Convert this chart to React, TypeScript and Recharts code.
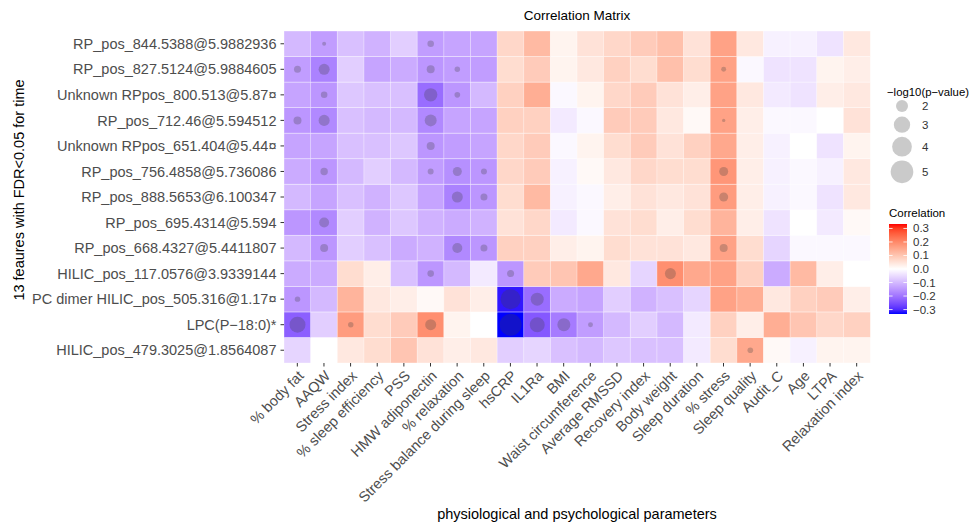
import React from 'react';
import { ComposedChart, Bar, XAxis, YAxis } from 'recharts';

const FONT = '"Liberation Sans", Arial, Helvetica, sans-serif';

const rowNames = [
  'RP_pos_844.5388@5.9882936',
  'RP_pos_827.5124@5.9884605',
  'Unknown RPpos_800.513@5.87¤',
  'RP_pos_712.46@5.594512',
  'Unknown RPpos_651.404@5.44¤',
  'RP_pos_756.4858@5.736086',
  'RP_pos_888.5653@6.100347',
  'RP_pos_695.4314@5.594',
  'RP_pos_668.4327@5.4411807',
  'HILIC_pos_117.0576@3.9339144',
  'PC dimer HILIC_pos_505.316@1.17¤',
  'LPC(P−18:0)*',
  'HILIC_pos_479.3025@1.8564087',
];

const colNames = [
  '% body fat', 'AAQW', 'Stress index', '% sleep efficiency', 'PSS', 'HMW adiponectin',
  '% relaxation', 'Stress balance during sleep', 'hsCRP', 'IL1Ra', 'BMI', 'Waist circumference',
  'Average RMSSD', 'Recovery index', 'Body weight', 'Sleep duration', '% stress', 'Sleep quality',
  'Audit_C', 'Age', 'LTPA', 'Relaxation index',
];

// correlation, one list per feature (same order as rowNames)
const corr = [
  [-0.10, -0.14, -0.09, -0.11, -0.07, -0.14, -0.13, -0.13, 0.07, 0.12, 0.02, 0.05, 0.07, 0.09, 0.11, 0.05, 0.16, 0.04, -0.02, -0.02, -0.04, 0.04],
  [-0.14, -0.18, -0.07, -0.13, -0.12, -0.15, -0.14, -0.14, 0.06, 0.09, 0.02, 0.04, 0.08, 0.06, 0.11, 0.06, 0.16, -0.01, -0.04, -0.04, 0.02, 0.03],
  [-0.13, -0.15, -0.08, -0.09, -0.09, -0.21, -0.15, -0.10, 0.08, 0.14, -0.01, 0.02, 0.07, 0.09, 0.05, 0.03, 0.16, 0.04, -0.03, -0.04, 0.03, 0.04],
  [-0.15, -0.17, -0.09, -0.10, -0.10, -0.17, -0.13, -0.13, 0.08, 0.08, -0.03, -0.01, 0.09, 0.09, 0.04, 0.01, 0.16, 0.03, -0.01, -0.01, 0.00, 0.05],
  [-0.13, -0.13, -0.09, -0.09, -0.08, -0.15, -0.14, -0.13, 0.07, 0.09, -0.01, 0.02, 0.06, 0.09, 0.05, 0.08, 0.15, 0.03, -0.02, 0.00, -0.04, 0.02],
  [-0.12, -0.15, -0.10, -0.07, -0.10, -0.14, -0.16, -0.15, 0.07, 0.09, -0.02, 0.01, 0.04, 0.07, 0.06, 0.06, 0.18, 0.03, -0.02, -0.01, -0.02, 0.04],
  [-0.10, -0.13, -0.09, -0.11, -0.08, -0.13, -0.18, -0.15, 0.06, 0.12, -0.02, -0.01, 0.03, 0.05, 0.04, 0.05, 0.17, 0.03, -0.02, -0.01, -0.04, 0.04],
  [-0.15, -0.17, -0.07, -0.11, -0.08, -0.11, -0.12, -0.11, 0.05, 0.07, -0.03, -0.01, 0.05, 0.06, 0.03, 0.06, 0.13, 0.03, -0.04, 0.00, -0.03, 0.01],
  [-0.10, -0.15, -0.07, -0.09, -0.12, -0.11, -0.17, -0.15, 0.08, 0.08, 0.03, 0.02, 0.06, 0.05, 0.05, 0.04, 0.16, 0.06, -0.06, -0.01, -0.01, -0.01],
  [-0.12, -0.12, 0.06, 0.03, -0.09, -0.15, -0.10, -0.03, -0.15, 0.09, 0.10, 0.15, 0.04, -0.06, 0.19, 0.15, 0.16, 0.08, -0.12, 0.12, 0.03, 0.00],
  [-0.15, -0.10, 0.13, 0.04, 0.03, 0.01, 0.05, 0.03, -0.32, -0.21, -0.12, -0.13, -0.07, -0.11, -0.09, -0.06, 0.16, 0.14, 0.04, 0.08, 0.09, 0.03],
  [-0.23, -0.07, 0.17, 0.06, 0.09, 0.19, 0.02, 0.00, -0.333, -0.24, -0.19, -0.14, -0.10, -0.07, -0.10, -0.03, 0.08, 0.03, 0.14, 0.10, 0.07, 0.08],
  [-0.06, 0.00, 0.04, 0.06, 0.10, 0.05, 0.03, 0.04, -0.07, -0.06, -0.09, -0.10, -0.08, -0.09, -0.09, -0.03, 0.06, 0.15, 0.01, -0.02, 0.02, 0.02],
];

// [row, col, -log10(p)] for the marked cells
const sig = [
  [0, 1, 0.96], [0, 5, 1.18],
  [1, 0, 1.23], [1, 1, 1.82], [1, 5, 1.35], [1, 6, 1.07], [1, 16, 1.03],
  [2, 1, 1.18], [2, 5, 2.29], [2, 6, 1.09],
  [3, 0, 1.35], [3, 1, 1.82], [3, 5, 2.0], [3, 16, 0.92],
  [4, 5, 1.35],
  [5, 1, 1.28], [5, 5, 1.12], [5, 6, 1.49], [5, 7, 1.12], [5, 16, 1.49],
  [6, 6, 1.82], [6, 7, 1.23], [6, 16, 1.49],
  [7, 1, 1.64],
  [8, 1, 1.35], [8, 6, 1.64], [8, 7, 1.23], [8, 16, 1.35],
  [9, 5, 1.18], [9, 8, 1.23], [9, 14, 1.82],
  [10, 0, 1.07], [10, 8, 4.09], [10, 9, 2.21],
  [11, 0, 2.91], [11, 2, 1.07], [11, 5, 1.82], [11, 8, 4.77], [11, 9, 2.66], [11, 10, 2.21], [11, 11, 1.03],
  [12, 17, 1.09],
];

const sizeBreaks = [2, 3, 4, 5];
const colorBreaks = [0.3, 0.2, 0.1, 0.0, -0.1, -0.2, -0.3];
const LIMIT = 0.333;

// --- colour scale: white -> blue / red interpolated in Lab (like scale_fill_gradient2)
const toLin = (c: number) => {
  const s = c / 255;
  return s <= 0.04045 ? s / 12.92 : Math.pow((s + 0.055) / 1.055, 2.4);
};
const fromLin = (c: number) => {
  const v = c <= 0.0031308 ? 12.92 * c : 1.055 * Math.pow(Math.max(c, 0), 1 / 2.4) - 0.055;
  return Math.round(Math.min(1, Math.max(0, v)) * 255);
};
const f = (t: number) => (t > 216 / 24389 ? Math.cbrt(t) : ((24389 / 27) * t + 16) / 116);
const fi = (t: number) => (t * t * t > 216 / 24389 ? t * t * t : (116 * t - 16) / (24389 / 27));

function rgbToLab([r, g, b]: number[]) {
  const R = toLin(r), G = toLin(g), B = toLin(b);
  const X = (0.4124 * R + 0.3576 * G + 0.1805 * B) / 0.95047;
  const Y = 0.2126 * R + 0.7152 * G + 0.0722 * B;
  const Z = (0.0193 * R + 0.1192 * G + 0.9505 * B) / 1.08883;
  return [116 * f(Y) - 16, 500 * (f(X) - f(Y)), 200 * (f(Y) - f(Z))];
}

function labToHex([L, a, b]: number[]) {
  const fy = (L + 16) / 116;
  const X = fi(fy + a / 500) * 0.95047;
  const Y = fi(fy);
  const Z = fi(fy - b / 200) * 1.08883;
  const r = fromLin(3.2406 * X - 1.5372 * Y - 0.4986 * Z);
  const g = fromLin(-0.9689 * X + 1.8758 * Y + 0.0415 * Z);
  const bl = fromLin(0.0557 * X - 0.204 * Y + 1.057 * Z);
  return '#' + [r, g, bl].map((v) => v.toString(16).padStart(2, '0')).join('');
}

const WHITE = rgbToLab([255, 255, 255]);
const BLUE = rgbToLab([0, 0, 255]);
const RED = rgbToLab([255, 0, 0]);

function fillFor(v: number) {
  const t = Math.max(-1, Math.min(1, v / LIMIT));
  const end = t < 0 ? BLUE : RED;
  const k = Math.abs(t);
  return labToHex(WHITE.map((w, i) => w + (end[i] - w) * k));
}

// circle area grows linearly with -log10(p)
const rScale = (p: number) => Math.sqrt(Math.max(0, 30.7 * (p - 0.83)));

const DOT_FILL = '#404040';
const DOT_OPACITY = 0.28;

const nRows = rowNames.length;
const data = colNames.map((name) => {
  const entry: Record<string, string | number> = { name };
  rowNames.forEach((_, i) => {
    entry[`t${i}`] = 1;
  });
  return entry;
});
const rowTicks = rowNames.map((_, i) => nRows - 0.5 - i);

function Tile(props: any, row: number) {
  const { x, y, width, height, index } = props;
  const hit = sig.find((s) => s[0] === row && s[1] === index);
  return (
    <g>
      <rect x={x} y={y} width={width} height={height} fill={fillFor(corr[row][index])} stroke="#ffffff" strokeOpacity={0.45} strokeWidth={0.8} />
      {hit && <circle cx={x + width / 2} cy={y + height / 2} r={rScale(hit[2])} fill={DOT_FILL} fillOpacity={DOT_OPACITY} />}
    </g>
  );
}

function XTick({ x, y, payload }: any) {
  return (
    <text x={x} y={y} transform={`rotate(-45, ${x}, ${y})`} textAnchor="end" dy="0.71em" fontSize={14.5} fill="#4D4D4D" fontFamily={FONT}>
      {payload.value}
    </text>
  );
}

function Legends() {
  let yy = 97.5;
  const keys = sizeBreaks.map((b) => {
    const r = rScale(b);
    const h = Math.max(2 * r + 4, 17);
    const cy = yy + h / 2;
    yy += h;
    return { b, r, cy };
  });
  const barTop = 224;
  const barH = 90;
  const yOf = (v: number) => barTop + ((LIMIT - v) / (2 * LIMIT)) * barH;
  const stops = Array.from({ length: 21 }, (_, i) => LIMIT - (i / 20) * 2 * LIMIT);
  return (
    <svg width={974} height={525} style={{ position: 'absolute', left: 0, top: 0, pointerEvents: 'none' }} fontFamily={FONT}>
      <defs>
        <linearGradient id="cbar" x1="0" y1="0" x2="0" y2="1">
          {stops.map((v, i) => (
            <stop key={i} offset={`${(i / 20) * 100}%`} stopColor={fillFor(v)} />
          ))}
        </linearGradient>
      </defs>
      <text x={577} y={20} textAnchor="middle" fontSize={13.5} fill="#000">Correlation Matrix</text>
      <text x={887} y={95.5} fontSize={11.5} textLength={82} lengthAdjust="spacingAndGlyphs" fill="#000">−log10(p−value)</text>
      {keys.map((k) => (
        <g key={k.b}>
          <circle cx={902} cy={k.cy} r={k.r} fill={DOT_FILL} fillOpacity={DOT_OPACITY} />
          <text x={922} y={k.cy + 4} fontSize={11.5} fill="#333">{k.b}</text>
        </g>
      ))}
      <text x={889} y={216.5} fontSize={11.5} fill="#000">Correlation</text>
      <rect x={889} y={barTop} width={18} height={barH} fill="url(#cbar)" />
      {colorBreaks.map((v) => (
        <g key={v}>
          <line x1={889} x2={892.6} y1={yOf(v)} y2={yOf(v)} stroke="#fff" strokeWidth={0.8} />
          <line x1={903.4} x2={907} y1={yOf(v)} y2={yOf(v)} stroke="#fff" strokeWidth={0.8} />
          <text x={913} y={yOf(v) + 4} fontSize={11.5} fill="#333">
            {v < 0 ? `−${Math.abs(v).toFixed(1)}` : v.toFixed(1)}
          </text>
        </g>
      ))}
    </svg>
  );
}

export default function App() {
  return (
    <div style={{ position: 'absolute', left: 0, top: 0, width: 974, height: 525, background: '#fff' }}>
      <ComposedChart width={974} height={525} data={data} margin={{ top: 31, right: 104, bottom: 0, left: 0 }} barCategoryGap={0} barGap={0}>
        <XAxis
          dataKey="name"
          interval={0}
          height={162}
          axisLine={false}
          tickSize={3.5}
          tickMargin={3}
          tickLine={{ stroke: '#333333' }}
          tick={<XTick />}
          label={{ value: 'physiological and psychological parameters', position: 'insideBottom', offset: 6, fill: '#000', fontSize: 14.5, fontFamily: FONT }}
        />
        <YAxis
          type="number"
          domain={[0, nRows]}
          ticks={rowTicks}
          interval={0}
          width={284}
          axisLine={false}
          tickSize={3.5}
          tickMargin={4}
          tickLine={{ stroke: '#333333' }}
          tick={{ fontSize: 14.5, fill: '#4D4D4D', fontFamily: FONT }}
          tickFormatter={(v: number) => rowNames[Math.round(nRows - 0.5 - v)]}
          label={{
            content: ({ viewBox }: any) => {
              const cx = 19;
              const cy = viewBox.y + viewBox.height / 2 - 7;
              return (
                <text x={cx} y={cy} transform={`rotate(-90, ${cx}, ${cy})`} textAnchor="middle" dominantBaseline="central" fontSize={14.5} fill="#000" fontFamily={FONT}>
                  13 feaures with FDR&lt;0.05 for time
                </text>
              );
            },
          }}
        />
        {rowNames
          .map((_, i) => i)
          .reverse()
          .map((i) => (
            <Bar key={i} dataKey={`t${i}`} stackId="tiles" isAnimationActive={false} shape={(p: any) => Tile(p, i)} />
          ))}
      </ComposedChart>
      <Legends />
    </div>
  );
}
